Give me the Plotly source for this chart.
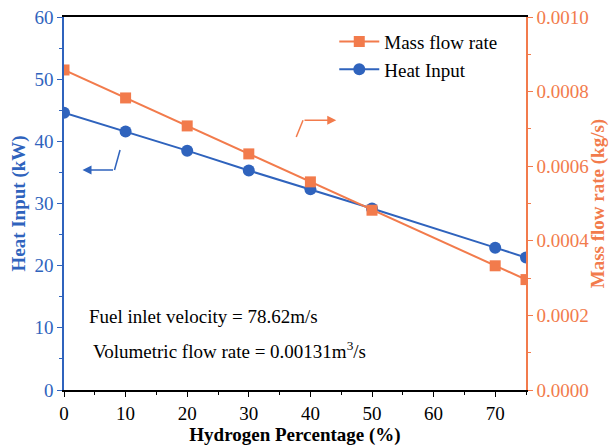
import plotly.graph_objects as go

hydrogen = [0, 10, 20, 30, 40, 50, 70, 75]
heat_input = [44.6, 41.6, 38.5, 35.3, 32.3, 29.2, 22.9, 21.3]
mass_flow = [0.000858, 0.000783, 0.000708, 0.000633, 0.000558, 0.000482, 0.000333, 0.000296]

BLUE = "#2F63BD"
ORANGE = "#F27B4C"
SERIF = "Liberation Serif, Times New Roman, serif"
FS = 19

fig = go.Figure()
fig.add_trace(go.Scatter(x=hydrogen, y=mass_flow, name="Mass flow rate", yaxis="y2",
                         mode="lines+markers", line=dict(color=ORANGE, width=2),
                         marker=dict(symbol="square", size=11, color=ORANGE)))
fig.add_trace(go.Scatter(x=hydrogen, y=heat_input, name="Heat Input", yaxis="y",
                         mode="lines+markers", line=dict(color=BLUE, width=2),
                         marker=dict(symbol="circle", size=12, color=BLUE)))

# direction arrows
fig.add_shape(type="line", xref="x", yref="y", x0=9.1, y0=38.6, x1=8.2, y1=35.4,
              line=dict(color=BLUE, width=1.5))
fig.add_annotation(x=3.0, y=35.4, ax=8.2, ay=35.4, xref="x", yref="y", axref="x", ayref="y",
                   showarrow=True, arrowhead=2, arrowsize=1.2, arrowwidth=1.5, arrowcolor=BLUE, text="")
fig.add_shape(type="line", xref="x", yref="y", x0=37.7, y0=40.7, x1=38.8, y1=43.4,
              line=dict(color=ORANGE, width=1.5))
fig.add_annotation(x=44.2, y=43.4, ax=38.8, ay=43.4, xref="x", yref="y", axref="x", ayref="y",
                   showarrow=True, arrowhead=2, arrowsize=1.2, arrowwidth=1.5, arrowcolor=ORANGE, text="")

fig.add_annotation(x=0.05, y=0.196, xref="paper", yref="paper", xanchor="left", yanchor="middle",
                   text="Fuel inlet velocity = 78.62m/s", showarrow=False,
                   font=dict(family=SERIF, size=FS, color="black"))
fig.add_annotation(x=0.059, y=0.107, xref="paper", yref="paper", xanchor="left", yanchor="middle",
                   text="Volumetric flow rate = 0.00131m<sup>3</sup>/s", showarrow=False,
                   font=dict(family=SERIF, size=FS, color="black"))

fig.update_layout(
    width=609, height=448,
    margin=dict(l=64, r=83, t=17, b=58, autoexpand=False),
    plot_bgcolor="white", paper_bgcolor="white",
    font=dict(family=SERIF, size=FS),
    showlegend=True,
    legend=dict(x=0.585, y=0.985, xanchor="left", yanchor="top", bgcolor="rgba(0,0,0,0)",
                font=dict(family=SERIF, size=FS, color="black"), tracegroupgap=0,
                itemwidth=40),
    xaxis=dict(range=[0, 75], tickvals=[0, 10, 20, 30, 40, 50, 60, 70], automargin=False,
               showline=True, linecolor="black", linewidth=1.5, mirror=True,
               ticks="outside", ticklen=5, tickcolor="black",
               minor=dict(dtick=5, ticks="outside", ticklen=3, tickcolor="black"),
               showgrid=False, zeroline=False,
               tickfont=dict(family=SERIF, size=FS, color="black"),
               title=dict(text="<b>Hydrogen Percentage (%)</b>", standoff=4,
                          font=dict(family=SERIF, size=FS, color="black"))),
    yaxis=dict(range=[0, 60], dtick=10, automargin=False,
               showline=True, linecolor=BLUE, linewidth=1.5,
               ticks="outside", ticklen=5, tickcolor=BLUE,
               minor=dict(dtick=5, ticks="outside", ticklen=3, tickcolor=BLUE),
               showgrid=False, zeroline=False,
               tickfont=dict(family=SERIF, size=FS, color=BLUE),
               title=dict(text="<b>Heat Input (kW)</b>", standoff=4,
                          font=dict(family=SERIF, size=FS, color=BLUE))),
    yaxis2=dict(range=[0, 0.001], dtick=0.0002, tickformat=".4f", overlaying="y", side="right",
                automargin=False,
                showline=True, linecolor=ORANGE, linewidth=1.5,
                ticks="outside", ticklen=5, tickcolor=ORANGE,
                minor=dict(dtick=0.0001, ticks="outside", ticklen=3, tickcolor=ORANGE),
                showgrid=False, zeroline=False,
                tickfont=dict(family=SERIF, size=FS, color=ORANGE),
                title=dict(text="<b>Mass flow rate (kg/s)</b>", standoff=2,
                           font=dict(family=SERIF, size=FS, color=ORANGE))),
)

fig.write_html("out.html")
